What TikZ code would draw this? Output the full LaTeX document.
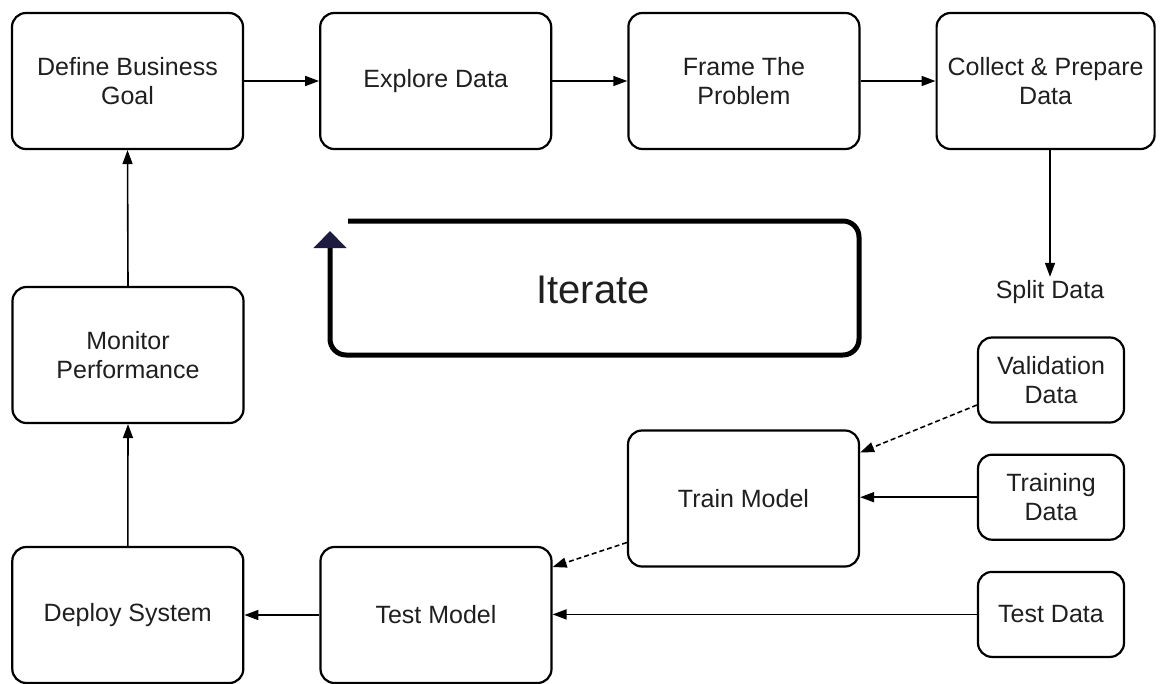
\documentclass[tikz,border=0pt]{standalone}
\usepackage{fontspec}
\setmainfont{Liberation Sans}
\usepackage{tikz}
\usetikzlibrary{positioning, arrows.meta}

\definecolor{tipnavy}{HTML}{1E1B40}

\begin{document}
\begin{tikzpicture}[x=1pt, y=-1pt, node distance=75pt and 75pt,
    every node/.style={font=\fontsize{25}{29}\selectfont, align=center, text=black!88},
    stage/.style={draw, rounded corners=14pt, line width=2.2pt, minimum width=231pt, minimum height=136pt},
    datum/.style={draw, rounded corners=14pt, line width=2.2pt, minimum width=146pt, minimum height=85pt},
    flow/.style={-{Triangle[length=14pt, width=10pt]}, line width=1.6pt},
    dashflow/.style={flow, dash pattern=on 5pt off 3pt}]
		\useasboundingbox (0,0) rectangle (1162,683);

		% Top row
		\node[stage] (goal) at (127.5,81) {Define Business\\Goal};
		\node[stage, right=of goal] (explore) {Explore Data};
		\node[stage, right=of explore] (frame) {Frame The\\Problem};
		\node[stage, right=of frame, minimum width=218pt] (collect) {Collect \& Prepare\\Data};

		% Data split
		\node (split) at (1050,292) {Split Data};
		\node[datum] (valid) at (1051,380) {Validation\\Data};
		\node[datum, below=30pt of valid] (training) {Training\\Data};
		\node[datum, below=30pt of training] (testdata) {Test Data};

		% Model and deployment
		\node[stage] (train) at (743.5,498.5) {Train Model};
		\node[stage] (test) at (436,615) {Test Model};
		\node[stage, left=of test] (deploy) {Deploy System};
		\node[stage] (monitor) at (128,355) {Monitor\\Performance};

		% Iterate loop
		\node[font=\fontsize{40}{48}\selectfont] (iter) at (593,290) {Iterate};
		\coordinate (loopstart) at (348,221);
		\coordinate (loopend) at (330,231);
		\draw[line width=5pt, rounded corners=16pt, -{Triangle[length=17pt, width=32pt, color=tipnavy]}]
			(loopstart) -- (859,221) -- (859,355) -- (330,355) -- (loopend);

		% Edges
		\draw[flow] (goal.east) -- (explore.west);
		\draw[flow] (explore.east) -- (frame.west);
		\draw[flow] (frame.east) -- (collect.west);
		\draw[flow] (collect.south -| split.north) -- (split.north);
		\draw[dashflow] ([yshift=-25pt]valid.west) -- ([yshift=46pt]train.east);
		\draw[flow] (training.west) -- (training.west -| train.east);
		\draw[dashflow] ([yshift=-44pt]train.west) -- ([yshift=48pt]test.east);
		\draw[flow] (testdata.west) -- (testdata.west -| test.east);
		\draw[flow] (test.west) -- (deploy.east);
		\draw[flow] (deploy.north) -- (monitor.south);
		\draw[flow] (monitor.north) -- (goal.south);
	\end{tikzpicture}
\end{document}
